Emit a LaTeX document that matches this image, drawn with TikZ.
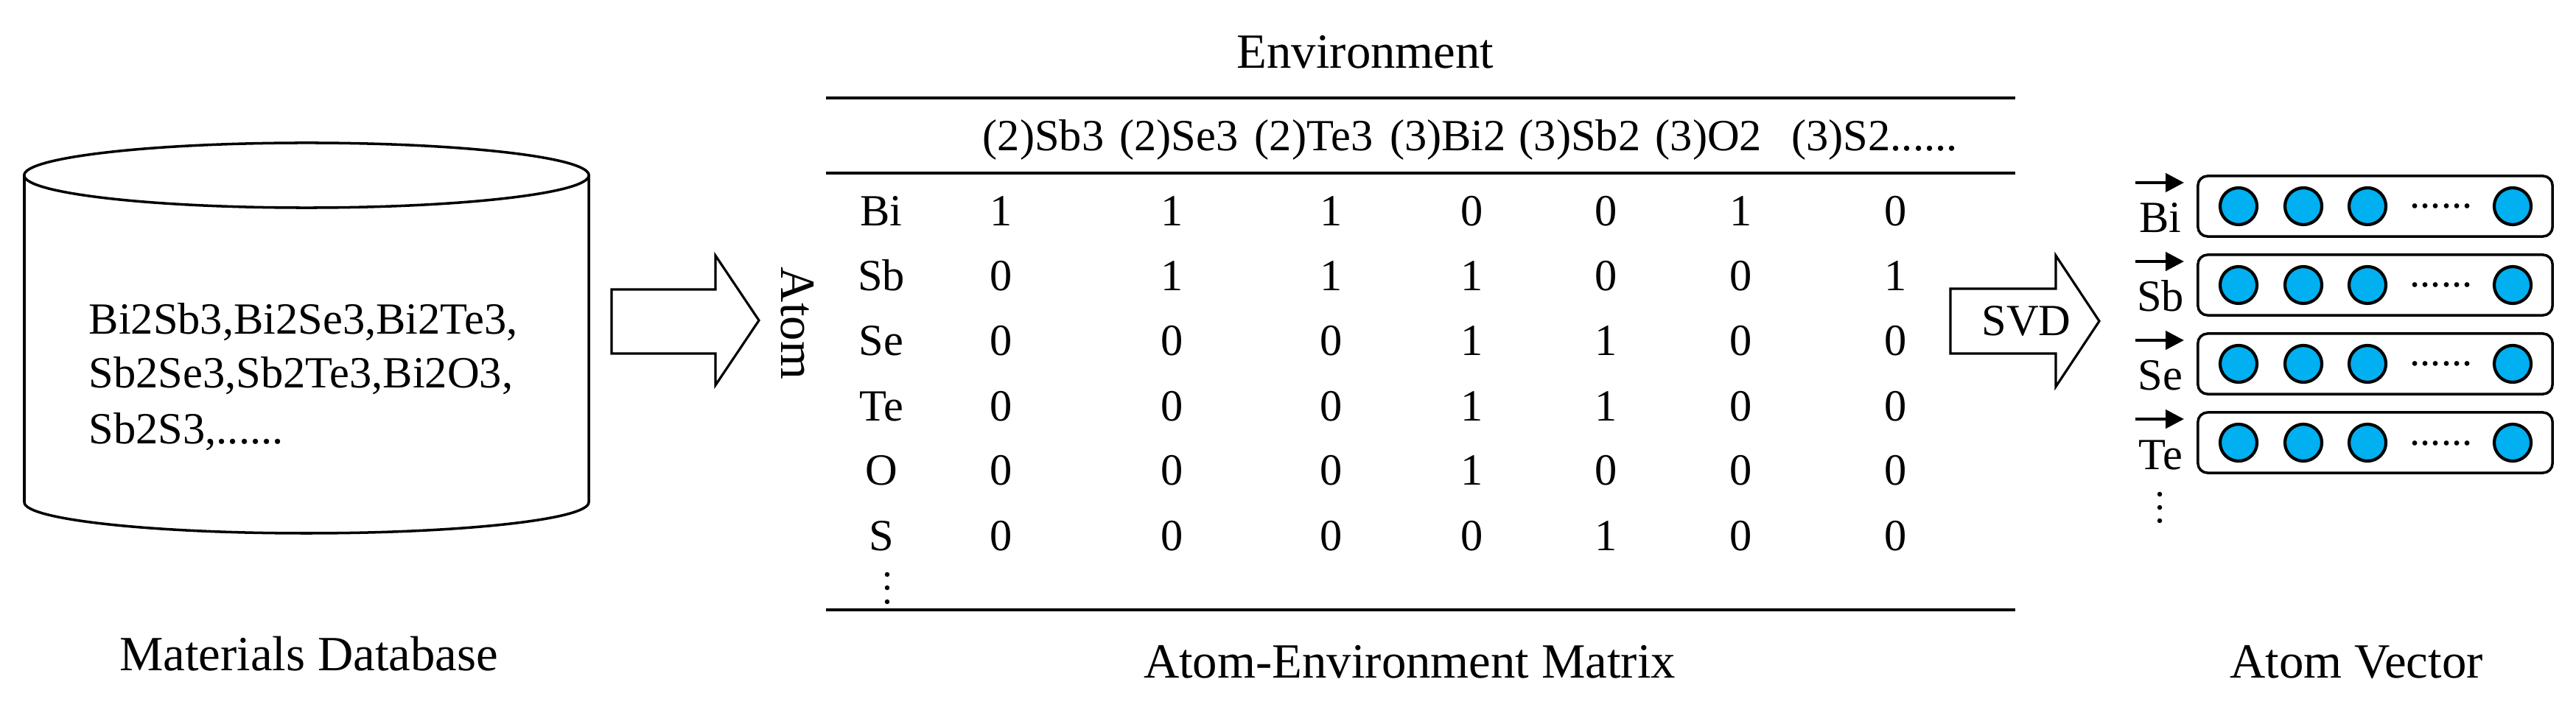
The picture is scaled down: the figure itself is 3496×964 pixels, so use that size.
\documentclass[tikz,border=0pt]{standalone}
\usepackage{fontspec}
\setmainfont{Liberation Serif}
\usetikzlibrary{arrows.meta}
\definecolor{unitblue}{RGB}{0,176,240}
\newcommand{\sixdots}{......}
\begin{document}
\begin{tikzpicture}[x=0.01cm,y=-0.01cm,
  lbl/.style={font=\fontsize{19}{22}\selectfont, inner sep=0, anchor=base},
  cell/.style={font=\fontsize{17.2}{20}\selectfont, inner sep=0, anchor=base},
  dbtext/.style={font=\fontsize{17.2}{20}\selectfont, inner sep=0, anchor=base west},
  rule/.style={line width=1.1pt},
  outline/.style={line width=0.9pt, line join=miter},
  vecbox/.style={draw, line width=1pt, rounded corners=0.13cm, minimum width=4.81cm, minimum height=0.82cm, inner sep=0},
  unit/.style={circle, draw, line width=1.2pt, fill=unitblue, minimum size=0.5cm, inner sep=0},
  vecarrow/.style={line width=1.3pt, -{Triangle[length=0.25cm, width=0.25cm]}},
  dotmark/.style={circle, fill, inner sep=0, minimum size=0.065cm}]
\useasboundingbox (0,0) rectangle (3496,964);

% ---------- Materials database (cylinder) ----------
\draw[line width=1pt] (416,238) ellipse [x radius=3.83cm, y radius=0.44cm];
\draw[line width=1pt] (33,238) -- (33,682)
  .. controls (33,705.2) and (204.5,724) .. (416,724)
  .. controls (627.5,724) and (799,705.2) .. (799,682) -- (799,238);
\node[dbtext] (db1) at (120,454) {Bi2Sb3,Bi2Se3,Bi2Te3,};
\node[dbtext] (db2) at (120,527) {Sb2Se3,Sb2Te3,Bi2O3,};
\node[dbtext] (db3) at (120,603) {Sb2S3,\sixdots};
\node[lbl] (dblabel) at (419,910) {Materials Database};

% ---------- block arrow 1 ----------
\draw[outline] (830,393) -- (971,393) -- (971,347) -- (1030,435) -- (971,523) -- (971,480) -- (830,480) -- cycle;

% ---------- matrix ----------
\node[lbl] (env) at (1853,93) {Environment};
\draw[rule] (1121,133) -- (2735,133);
\draw[rule] (1121,235) -- (2735,235);
\draw[rule] (1121,828) -- (2735,828);
\node[font=\fontsize{19}{22}\selectfont, inner sep=0, rotate=-90] (atom) at (1082,439) {Atom};
\node[cell] (h1) at (1416,205) {(2)Sb3};
\node[cell] (h2) at (1600,205) {(2)Se3};
\node[cell] (h3) at (1783,205) {(2)Te3};
\node[cell] (h4) at (1965,205) {(3)Bi2};
\node[cell] (h5) at (2144,205) {(3)Sb2};
\node[cell] (h6) at (2319,205) {(3)O2};
\node[cell] (h7) at (2544,205) {(3)S2\sixdots};
\foreach \lab [count=\i from 0] in {Bi,Sb,Se,Te,O,S}
  \node[cell] (row\lab) at (1196,{307+88*\i}) {\lab};
\foreach \row [count=\r from 0] in {{1,1,1,0,0,1,0},{0,1,1,1,0,0,1},{0,0,0,1,1,0,0},{0,0,0,1,1,0,0},{0,0,0,1,0,0,0},{0,0,0,0,1,0,0}}{
  \foreach \v [count=\c from 0] in \row {
    \pgfmathsetmacro{\cx}{{1359,1591,1807,1998,2180,2363,2573}[\c]}
    \node[cell] (m\r\c) at (\cx,{307+88*\r}) {\v};
  }
}
\foreach \yy [count=\k] in {780,798,817}
  \node[dotmark] (mv\k) at (1204,\yy) {};
\node[lbl] (mlabel) at (1913,920) {Atom-Environment Matrix};

% ---------- SVD arrow ----------
\draw[outline] (2647,392) -- (2790,392) -- (2790,347) -- (2849,436) -- (2790,525) -- (2790,480) -- (2647,480) -- cycle;
\node[cell] (svd) at (2750,456) {SVD};

% ---------- atom vectors ----------
\foreach \lab [count=\i from 0] in {Bi,Sb,Se,Te}{
  \pgfmathsetmacro{\cy}{280+107*\i}
  \node[vecbox] (box\lab) at (3223.5,\cy) {};
  \foreach \ux [count=\j] in {3038,3126,3213,3410}
    \node[unit] (u\lab\j) at (\ux,\cy) {};
  \node[font=\fontsize{16}{18}\selectfont, inner sep=0, anchor=base] (dots\lab) at (3313,\cy+3) {\sixdots};
  \node[cell] (v\lab) at (2932,\cy+36) {\lab};
  \draw[vecarrow] (2898,\cy-32) -- (2964,\cy-32);
}
\foreach \yy [count=\k] in {671,689,707}
  \node[dotmark] (vv\k) at (2931,\yy) {};
\node[lbl] (vlabel) at (3198,920) {Atom Vector};
\end{tikzpicture}
\end{document}
